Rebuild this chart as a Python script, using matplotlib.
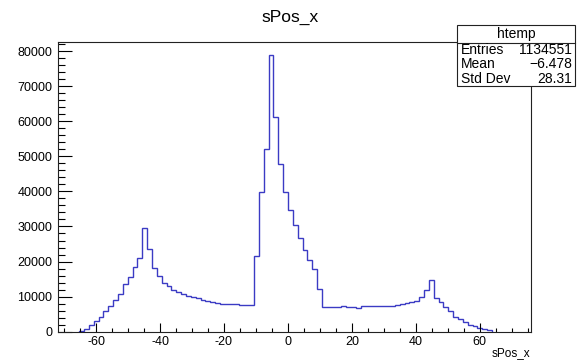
import numpy as np
import matplotlib
matplotlib.use("Agg")
import matplotlib.pyplot as plt
from matplotlib.patches import Rectangle
from matplotlib.ticker import MultipleLocator

plt.rcParams['font.family'] = ['Liberation Sans', 'DejaVu Sans']
plt.rcParams['axes.unicode_minus'] = False

## histogram data (htemp of sPos_x), bins start at bin_lo with width bin_w
bin_lo = -65.3
bin_w = 1.519
counts = [150, 900, 1900, 3000, 4300, 5800, 7200, 8900, 10700, 13500,
          15600, 18500, 21000, 29700, 23500, 18300, 15900, 13900, 13000, 12000,
          11400, 10700, 10250, 9800, 9500, 9000, 8830, 8370, 8170, 7970,
          7800, 8000, 7800, 7690, 7690, 7500, 21600, 39700, 52000, 78800,
          61200, 47700, 39900, 34600, 30400, 26800, 23200, 20400, 18000, 12200,
          6950, 6950, 6950, 6950, 7350, 7100, 7100, 6850, 7250, 7300,
          7400, 7350, 7350, 7400, 7450, 7600, 7850, 8150, 8450, 8700,
          9800, 11900, 14700, 9750, 8450, 7100, 5850, 4270, 3650, 2850,
          2000, 1520, 1050, 720, 350]
x_range = (-71.9, 76.0)

stat_names = ['Entries', 'Mean', 'Std Dev']
stat_values = ['1134551', '\u22126.478', '28.31']

counts = np.array(counts, dtype=float)
edges = bin_lo + bin_w*np.arange(len(counts)+1)

fig = plt.figure(figsize=(5.8, 3.6), dpi=100)
W, H = 580.0, 360.0
ax = fig.add_axes([58/W, 1-331.7/H, (531-58)/W, (331.7-41.5)/H])

ax.stairs(counts, edges, baseline=0, color='#3b3bc4', linewidth=1.0)
ax.set_xlim(*x_range)
ax.set_ylim(0, 1.05*counts.max())

## ROOT style axes
ax.xaxis.set_major_locator(MultipleLocator(20))
ax.xaxis.set_minor_locator(MultipleLocator(5))
ax.yaxis.set_major_locator(MultipleLocator(10000))
ax.yaxis.set_minor_locator(MultipleLocator(2000))
ax.tick_params(axis='x', which='major', direction='in', length=6.3, width=0.8,
               top=False, labelsize=9, pad=3)
ax.tick_params(axis='x', which='minor', direction='in', length=3.2, width=0.8, top=False)
ax.tick_params(axis='y', which='major', direction='in', length=10.2, width=0.8,
               right=False, labelsize=9, pad=4)
ax.tick_params(axis='y', which='minor', direction='in', length=5.1, width=0.8, right=False)
for s in ax.spines.values():
    s.set_linewidth(0.8)
    s.set_color('#222222')

fig.text(290/W, 1-17/H, 'sPos_x', ha='center', va='center', fontsize=12.5)
fig.text(530/W, 1-353/H, 'sPos_x', ha='right', va='center', fontsize=8.5)

## stats box
bx0, bx1, by0, by1 = 457, 575, 25, 86
fig.patches.append(Rectangle((bx0/W, 1-by1/H), (bx1-bx0)/W, (by1-by0)/H,
                             transform=fig.transFigure, facecolor='white',
                             edgecolor='#222222', linewidth=0.8, zorder=5))
fig.add_artist(plt.Line2D([bx0/W, bx1/W], [1-43/H, 1-43/H], transform=fig.transFigure,
                          color='#222222', linewidth=0.8, zorder=6))
fig.text((bx0+bx1)/2/W, 1-34/H, 'htemp', ha='center', va='center', fontsize=10, zorder=7)
for i in range(len(stat_names)):
    yy = 1-(50+14.5*i)/H
    fig.text((bx0+4)/W, yy, stat_names[i], ha='left', va='center', fontsize=10, zorder=7)
    fig.text((bx1-3)/W, yy, stat_values[i], ha='right', va='center', fontsize=10, zorder=7)

fig.savefig('out.png', dpi=100)
